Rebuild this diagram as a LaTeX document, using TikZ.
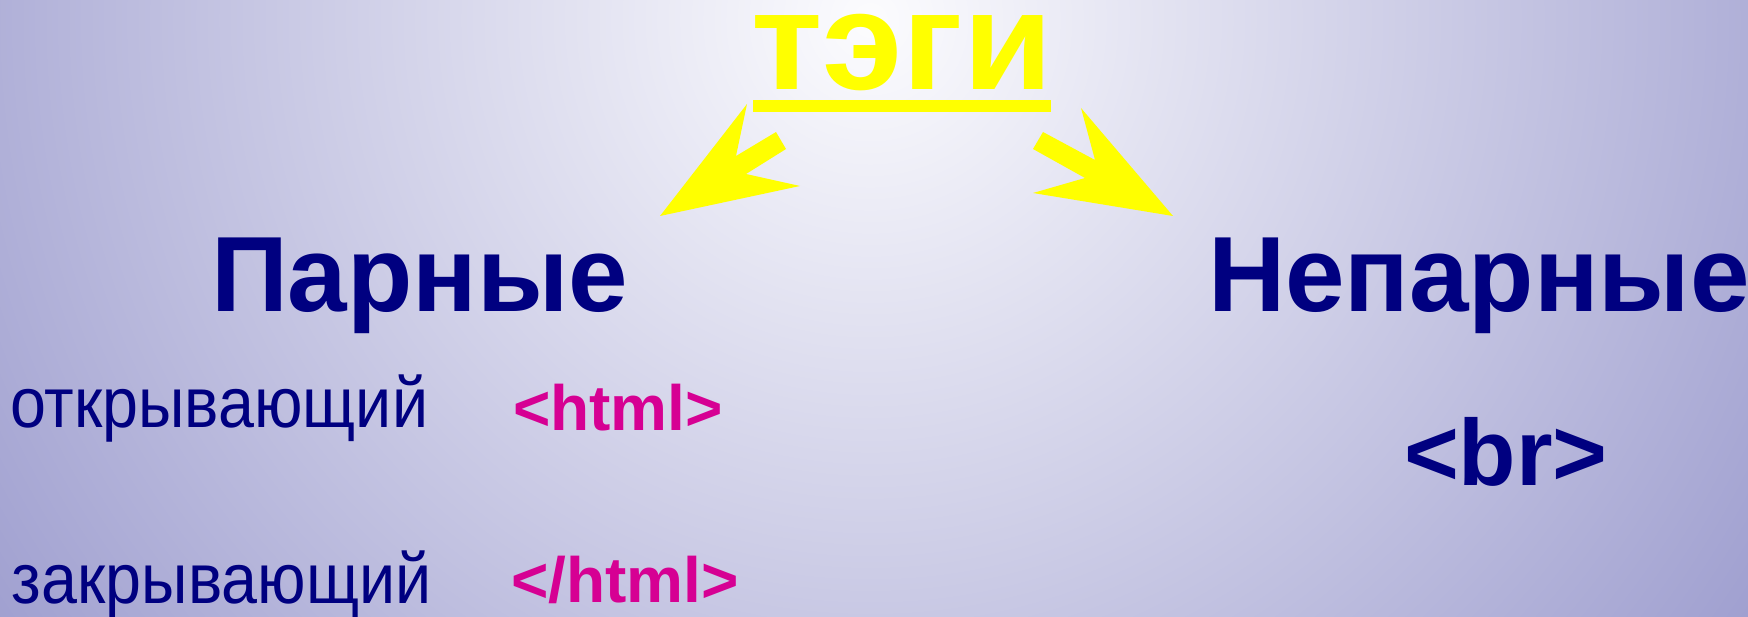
\documentclass[tikz,border=0pt]{standalone}
\usepackage{fontspec}
\setmainfont{Liberation Sans}
\definecolor{navyT}{RGB}{0,0,128}
\definecolor{pinkT}{RGB}{214,0,147}
\definecolor{yellowT}{RGB}{255,255,0}
\definecolor{bgout}{RGB}{160,160,208}
\definecolor{bgin}{RGB}{252,252,254}
\pgfdeclareradialshading{bgshade}{\pgfpoint{0bp}{0bp}}{color(0bp)=(bgin); color(25bp)=(bgout); color(50bp)=(bgout)}
\tikzset{
  txt/.style={inner sep=0pt, outer sep=0pt, anchor=base west},
  heading/.style={txt, text=navyT, font=\fontsize{107}{109}\selectfont\bfseries},
  kind/.style={txt, text=navyT, font=\fontsize{71}{73}\selectfont},
  tagtxt/.style={txt, text=pinkT, font=\fontsize{64}{66}\selectfont\bfseries},
  blockarrow/.style={fill=yellowT, draw=none},
}
\begin{document}
\begin{tikzpicture}[x=1pt,y=-1pt]
\useasboundingbox (0,0) rectangle (1748,617);
\begin{scope}
  \clip (0,0) rectangle (1748,617);
  \fill[bgout] (0,0) rectangle (1748,617);
  \shade[shading=bgshade] (870,20) circle (1060pt);
\end{scope}
% title
\node[txt, text=yellowT, font=\fontsize{140}{142}\selectfont\bfseries] (title) at (751,90) {\scalebox{1.04}[1]{тэги}};
\fill[yellowT] (753,100) rectangle (1051,112);
% block arrows
\fill[blockarrow] (660,216) -- (747,104) -- (736,156) -- (776,132) -- (786,149) -- (746,174) -- (800,186) -- cycle;
\fill[blockarrow] (1173,216) -- (1081,108) -- (1095,160) -- (1043,132) -- (1033,149) -- (1085,178) -- (1033,193) -- cycle;
% headings
\node[heading] (paired) at (211,312) {Парные};
\node[heading] (unpaired) at (1208,312) {Непарные};
% kinds
\node[kind] (open) at (10,428) {\scalebox{0.91}[1]{открывающий}};
\node[kind] (close) at (12,603) {\scalebox{0.91}[1]{закрывающий}};
% tags
\node[tagtxt] (openTag) at (513,430) {<html>};
\node[tagtxt] (closeTag) at (511,602) {</html>};
\node[txt, text=navyT, font=\fontsize{94}{96}\selectfont\bfseries] (br) at (1404,485) {<br>};
\end{tikzpicture}
\end{document}
